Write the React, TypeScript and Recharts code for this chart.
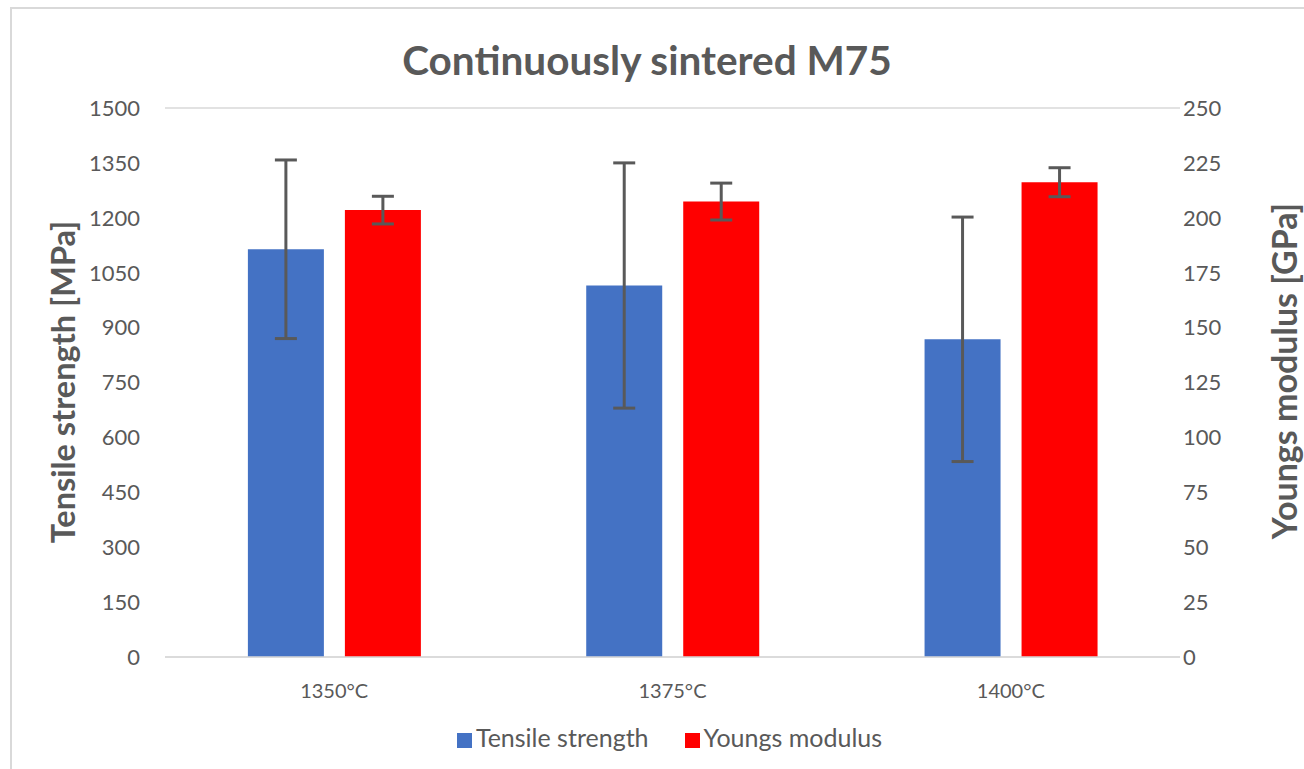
import React from 'react';
import { ComposedChart, Bar, XAxis, YAxis, CartesianGrid, Legend, ErrorBar } from 'recharts';

const categories = ['1350°C', '1375°C', '1400°C'];
const tensileStrength = [1114, 1015, 868];
const tensileError = [244, 335, 334];
const youngsModulus = [203.5, 207.4, 216.2];
const youngsError = [6.3, 8.4, 6.6];
const leftTicks = [0, 150, 300, 450, 600, 750, 900, 1050, 1200, 1350, 1500];
const rightTicks = [0, 25, 50, 75, 100, 125, 150, 175, 200, 225, 250];

const data = categories.map((c, i) => ({
  name: c,
  tensile: tensileStrength[i],
  tensileErr: tensileError[i],
  youngs: youngsModulus[i],
  youngsErr: youngsError[i],
}));

const FONT = 'Lato, "Open Sans", sans-serif';
const GREY = '#595959';

export default function App() {
  return (
    <div style={{ position: 'absolute', left: 0, top: 0, width: 1304, height: 769, overflow: 'hidden', background: '#fff', fontFamily: FONT }}>
      <div style={{ position: 'absolute', left: 10, top: 7, width: 1310, height: 780, border: '2px solid #d9d9d9', boxSizing: 'border-box' }} />
      <div style={{ position: 'absolute', left: 0, top: 35, width: 1294, textAlign: 'center', fontSize: 40.5, fontWeight: 700, color: GREY }}>
        Continuously sintered M75
      </div>
      <div style={{ position: 'absolute', left: 62, top: 382, transform: 'translate(-50%, -50%) rotate(-90deg)', whiteSpace: 'nowrap', fontSize: 32.5, fontWeight: 700, color: GREY }}>
        Tensile strength [MPa]
      </div>
      <div style={{ position: 'absolute', left: 1283, top: 371, transform: 'translate(-50%, -50%) rotate(-90deg)', whiteSpace: 'nowrap', fontSize: 34, fontWeight: 700, color: GREY }}>
        Youngs modulus [GPa]
      </div>
      <div style={{ position: 'absolute', left: 0, top: 0 }}>
        <ComposedChart
          width={1304}
          height={769}
          data={data}
          margin={{ top: 108, right: 40, bottom: 32, left: 85 }}
          barCategoryGap="24.5%"
          barGap={21}
        >
          <CartesianGrid vertical={false} stroke="#d9d9d9" strokeWidth={1.5} />
          <XAxis
            dataKey="name"
            axisLine={{ stroke: '#d9d9d9', strokeWidth: 1.5 }}
            tickLine={false}
            tick={{ fill: GREY, fontSize: 20, fontFamily: FONT }}
            tickMargin={21}
            height={50}
          />
          <YAxis
            yAxisId="left"
            orientation="left"
            domain={[0, 1500]}
            ticks={leftTicks}
            axisLine={false}
            tickLine={false}
            tickSize={0}
            tick={{ fill: GREY, fontSize: 22, fontFamily: FONT }}
            tickMargin={25}
            width={80}
            interval={0}
          />
          <YAxis
            yAxisId="right"
            orientation="right"
            domain={[0, 250]}
            ticks={rightTicks}
            axisLine={false}
            tickLine={false}
            tickSize={0}
            tick={{ fill: GREY, fontSize: 22, fontFamily: FONT }}
            tickMargin={3}
            width={84}
            interval={0}
          />
          <Legend
            verticalAlign="bottom"
            iconType="square"
            iconSize={15}
            wrapperStyle={{ fontFamily: FONT, fontSize: 25, bottom: 17 }}
            formatter={(v, _e, i) => <span style={{ color: GREY, marginRight: i === 0 ? 26 : 0 }}>{v}</span>}
          />
          <Bar yAxisId="left" dataKey="tensile" name="Tensile strength" fill="#4472c4" isAnimationActive={false}>
            <ErrorBar dataKey="tensileErr" width={11} strokeWidth={3} stroke={GREY} direction="y" />
          </Bar>
          <Bar yAxisId="right" dataKey="youngs" name="Youngs modulus" fill="#ff0000" isAnimationActive={false}>
            <ErrorBar dataKey="youngsErr" width={11} strokeWidth={3} stroke={GREY} direction="y" />
          </Bar>
        </ComposedChart>
      </div>
    </div>
  );
}
